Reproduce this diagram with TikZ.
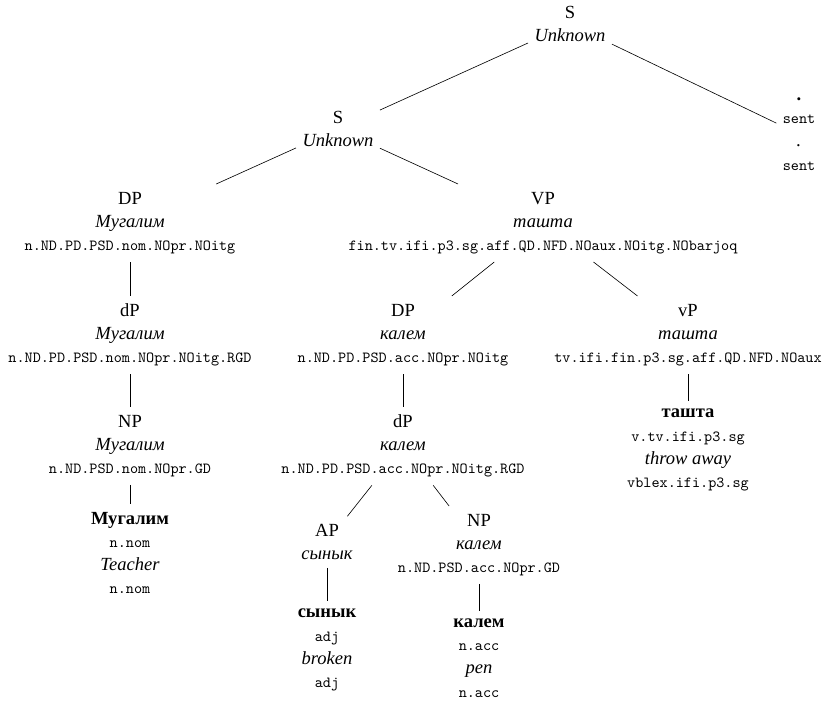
\documentclass[tikz,border=0pt]{standalone}
\usepackage{fontspec}
\setmainfont{Liberation Serif}
\newcommand\tg[1]{{\fontsize{10}{15}\selectfont\ttfamily #1}}

\begin{document}
\begin{tikzpicture}[x=0.648pt,y=0.648pt,
    every node/.style={align=center,inner xsep=4pt,inner ysep=5pt,
      font=\fontsize{12}{15}\selectfont}]
  \useasboundingbox (0,0) rectangle (824,-702);

  \node (top) at (570,-24) {S\\\textit{Unknown}};
  \node (s) at (338,-129) {S\\\textit{Unknown}};
  \node (sent) at (799,-134) {\textbf{.}\\\tg{sent}\\\textit{.}\\\tg{sent}};

  \node (dp) at (130,-223) {DP\\\textit{Мугалим}\\\tg{n.ND.PD.PSD.nom.NOpr.NOitg}};
  \node (vp) at (543,-223)
    {VP\\\textit{ташта}\\\tg{fin.tv.ifi.p3.sg.aff.QD.NFD.NOaux.NOitg.NObarjoq}};

  \node (dpm) at (130,-335) {dP\\\textit{Мугалим}\\\tg{n.ND.PD.PSD.nom.NOpr.NOitg.RGD}};
  \node (dpk) at (403,-335) {DP\\\textit{калем}\\\tg{n.ND.PD.PSD.acc.NOpr.NOitg}};
  \node (vsp) at (688,-335) {vP\\\textit{ташта}\\\tg{tv.ifi.fin.p3.sg.aff.QD.NFD.NOaux}};

  \node (np) at (130,-446) {NP\\\textit{Мугалим}\\\tg{n.ND.PSD.nom.NOpr.GD}};
  \node (dpk2) at (403,-446) {dP\\\textit{калем}\\\tg{n.ND.PD.PSD.acc.NOpr.NOitg.RGD}};
  \node (tashta) at (688,-450)
    {\textbf{ташта}\\\tg{v.tv.ifi.p3.sg}\\\textit{throw away}\\\tg{vblex.ifi.p3.sg}};

  \node (mugalim) at (130,-553) {\textbf{Мугалим}\\\tg{n.nom}\\\textit{Teacher}\\\tg{n.nom}};
  \node (ap) at (327,-542) {AP\\\textit{сынык}};
  \node (npk) at (479,-545) {NP\\\textit{калем}\\\tg{n.ND.PSD.acc.NOpr.GD}};

  \node (synyk) at (327,-650) {\textbf{сынык}\\\tg{adj}\\\textit{broken}\\\tg{adj}};
  \node (kalem) at (479,-658) {\textbf{калем}\\\tg{n.acc}\\\textit{pen}\\\tg{n.acc}};

  \draw (top) -- (s);
  \draw (top) -- (sent);
  \draw (s) -- (dp);
  \draw (s) -- (vp);
  \draw (dp) -- (dpm);
  \draw (dpm) -- (np);
  \draw (np) -- (mugalim);
  \draw (vp) -- (dpk);
  \draw (vp) -- (vsp);
  \draw (dpk) -- (dpk2);
  \draw (dpk2) -- (ap);
  \draw (dpk2) -- (npk);
  \draw (ap) -- (synyk);
  \draw (npk) -- (kalem);
  \draw (vsp) -- (tashta);

\end{tikzpicture}
\end{document}
